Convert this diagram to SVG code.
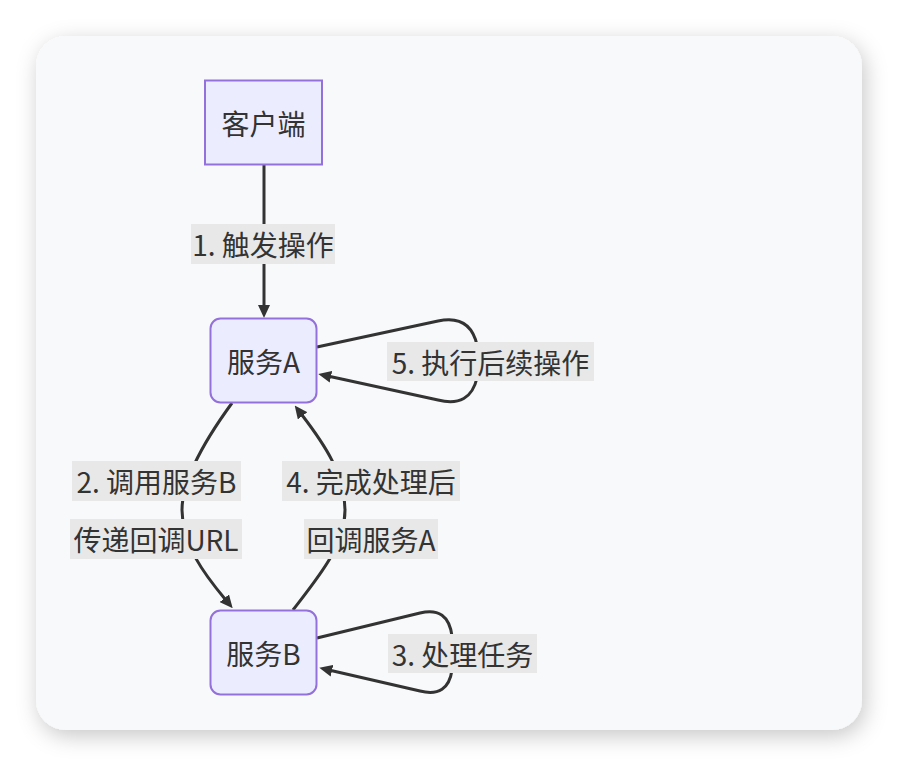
<svg xmlns="http://www.w3.org/2000/svg" width="898" height="766" viewBox="0 0 898 766">
  <style>
    .node rect { fill: #ECECFF; stroke: #9370DB; stroke-width: 2; }
    .txt { font-family: "Noto Sans CJK SC", "Noto Sans", sans-serif; font-size: 28px; fill: #333333; text-anchor: middle; dominant-baseline: central; }
    .edge { fill: none; stroke: #333333; stroke-width: 3; }
    .lbl { fill: #E8E8E8; }
  </style>
  <defs>
    <filter id="shadow" x="-10%" y="-10%" width="120%" height="125%">
      <feDropShadow dx="3" dy="6" stdDeviation="11" flood-color="#000000" flood-opacity="0.22"/>
    </filter>
    <marker id="arrow" viewBox="0 0 13 12" refX="1" refY="6" markerWidth="13" markerHeight="12" markerUnits="userSpaceOnUse" orient="auto">
      <path d="M0,0 L13,6 L0,12 z" fill="#333333"/>
    </marker>
  </defs>
  <rect x="0" y="0" width="898" height="766" fill="#FFFFFF"/>
  <rect x="36" y="36" width="826" height="694" rx="30" ry="30" fill="#F8F9FB" filter="url(#shadow)"/>

  <g id="connectors">
    <path class="edge" d="M264,165 L264,306" marker-end="url(#arrow)"/>
    <path class="edge" d="M317,347 L438,321 Q470,314 477,345 L477,378 Q470,408 438,400 L330,376.5" marker-end="url(#arrow)"/>
    <path class="edge" d="M232,403 C205,440 182,480 182,510 C182,545 205,575 225,599" marker-end="url(#arrow)"/>
    <path class="edge" d="M293,610 C320,575 345,545 345,510 C345,475 325,445 302,415" marker-end="url(#arrow)"/>
    <path class="edge" d="M317,638 L420,613 Q448,606 452,636 L452,670 Q448,698 420,691 L331,670.5" marker-end="url(#arrow)"/>
  </g>

  <g id="edge-labels">
    <g id="label-1">
      <rect class="lbl" x="191" y="224" width="144" height="40"/>
      <text class="txt" x="263" y="244">1. 触发操作</text>
    </g>
    <g id="label-5">
      <rect class="lbl" x="387" y="342" width="207" height="39"/>
      <text class="txt" x="490.5" y="361.5">5. 执行后续操作</text>
    </g>
    <g id="label-2">
      <rect class="lbl" x="72" y="461" width="169" height="40"/>
      <text class="txt" x="156.5" y="481">2. 调用服务B</text>
      <rect class="lbl" x="70" y="519" width="172" height="40"/>
      <text class="txt" x="156" y="539">传递回调URL</text>
    </g>
    <g id="label-4">
      <rect class="lbl" x="282" y="461" width="178" height="40"/>
      <text class="txt" x="371" y="481">4. 完成处理后</text>
      <rect class="lbl" x="304" y="519" width="134" height="40"/>
      <text class="txt" x="371" y="539">回调服务A</text>
    </g>
    <g id="label-3">
      <rect class="lbl" x="388" y="634" width="149" height="39"/>
      <text class="txt" x="462.5" y="653.5">3. 处理任务</text>
    </g>
  </g>

  <g id="client" class="node">
    <rect x="205" y="80.5" width="117" height="84"/>
    <text class="txt" x="263.5" y="122.5">客户端</text>
  </g>
  <g id="serviceA" class="node">
    <rect x="210.5" y="318.5" width="106" height="84" rx="10" ry="10"/>
    <text class="txt" x="263.5" y="360.5">服务A</text>
  </g>
  <g id="serviceB" class="node">
    <rect x="210.5" y="610.5" width="106" height="84" rx="10" ry="10"/>
    <text class="txt" x="263.5" y="652.5">服务B</text>
  </g>
</svg>
